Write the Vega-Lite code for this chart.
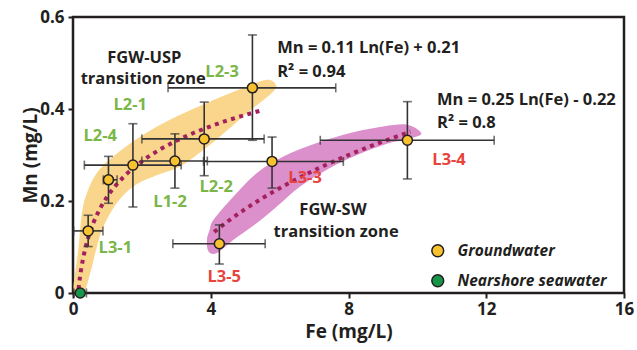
{
  "$schema": "https://vega.github.io/schema/vega-lite/v6.json",
  "width": 551,
  "height": 276,
  "autosize": {"type": "none"},
  "padding": {"left": 73, "top": 17, "right": 13, "bottom": 57},
  "background": "white",
  "config": {
    "view": {"stroke": "#231f20", "strokeWidth": 2.5},
    "axis": {
      "domain": false, "grid": false,
      "tickColor": "#231f20", "tickWidth": 2, "tickSize": 5,
      "labelFont": "Open Sans", "labelFontWeight": "bold", "labelFontSize": 17, "labelColor": "#231f20",
      "titleFont": "Open Sans", "titleFontWeight": "bold", "titleFontSize": 19, "titleColor": "#231f20"
    },
    "legend": {
      "orient": "none", "legendX": 357, "legendY": 226, "padding": 0,
      "symbolType": "circle", "symbolSize": 140, "symbolStrokeColor": "#231f20", "symbolStrokeWidth": 1.5,
      "labelFont": "Open Sans", "labelFontStyle": "italic", "labelFontWeight": "bold", "labelFontSize": 15.5,
      "labelColor": "#231f20", "labelOffset": 12, "rowPadding": 11
    }
  },
  "datasets": {
    "samples": [
      {"site": "L3-1", "type": "Groundwater", "Fe": 0.44, "Mn": 0.135, "FeLo": 0.02, "FeHi": 0.87, "MnLo": 0.101, "MnHi": 0.169},
      {"site": "L2-4", "type": "Groundwater", "Fe": 1.03, "Mn": 0.246, "FeLo": 0.88, "FeHi": 1.28, "MnLo": 0.195, "MnHi": 0.297},
      {"site": "L2-1", "type": "Groundwater", "Fe": 1.74, "Mn": 0.278, "FeLo": 0.33, "FeHi": 3.14, "MnLo": 0.187, "MnHi": 0.368},
      {"site": "L1-2", "type": "Groundwater", "Fe": 2.96, "Mn": 0.287, "FeLo": 2.0, "FeHi": 3.9, "MnLo": 0.228, "MnHi": 0.346},
      {"site": "L2-2", "type": "Groundwater", "Fe": 3.81, "Mn": 0.335, "FeLo": 2.0, "FeHi": 5.55, "MnLo": 0.255, "MnHi": 0.415},
      {"site": "L2-3", "type": "Groundwater", "Fe": 5.21, "Mn": 0.446, "FeLo": 2.76, "FeHi": 7.63, "MnLo": 0.332, "MnHi": 0.561},
      {"site": "L3-3", "type": "Groundwater", "Fe": 5.78, "Mn": 0.286, "FeLo": 3.79, "FeHi": 7.85, "MnLo": 0.228, "MnHi": 0.339},
      {"site": "L3-4", "type": "Groundwater", "Fe": 9.71, "Mn": 0.332, "FeLo": 7.18, "FeHi": 12.23, "MnLo": 0.248, "MnHi": 0.416},
      {"site": "L3-5", "type": "Groundwater", "Fe": 4.25, "Mn": 0.107, "FeLo": 2.9, "FeHi": 5.58, "MnLo": 0.063, "MnHi": 0.148},
      {"site": "SW", "type": "Nearshore seawater", "Fe": 0.21, "Mn": 0.0, "FeLo": 0.03, "FeHi": 0.39, "MnLo": null, "MnHi": null}
    ],
    "zoneUSP": [
      {"i": 0, "Fe": 0.023, "Mn": 0.005}, {"i": 1, "Fe": 0.096, "Mn": 0.0615}, {"i": 2, "Fe": 0.163, "Mn": 0.101},
      {"i": 3, "Fe": 0.261, "Mn": 0.1746}, {"i": 4, "Fe": 0.406, "Mn": 0.218}, {"i": 5, "Fe": 0.696, "Mn": 0.2615},
      {"i": 6, "Fe": 1.169, "Mn": 0.297}, {"i": 7, "Fe": 2.04, "Mn": 0.344}, {"i": 8, "Fe": 3.018, "Mn": 0.384},
      {"i": 9, "Fe": 3.984, "Mn": 0.4165}, {"i": 10, "Fe": 5.049, "Mn": 0.449}, {"i": 11, "Fe": 5.63, "Mn": 0.4637},
      {"i": 12, "Fe": 5.87, "Mn": 0.455}, {"i": 13, "Fe": 5.82, "Mn": 0.438}, {"i": 14, "Fe": 5.05, "Mn": 0.391},
      {"i": 15, "Fe": 4.27, "Mn": 0.3404}, {"i": 16, "Fe": 3.79, "Mn": 0.3115}, {"i": 17, "Fe": 3.11, "Mn": 0.275},
      {"i": 18, "Fe": 2.34, "Mn": 0.2535}, {"i": 19, "Fe": 1.75, "Mn": 0.2317}, {"i": 20, "Fe": 1.277, "Mn": 0.196},
      {"i": 21, "Fe": 0.888, "Mn": 0.145}, {"i": 22, "Fe": 0.696, "Mn": 0.101}, {"i": 23, "Fe": 0.502, "Mn": 0.044},
      {"i": 24, "Fe": 0.308, "Mn": 0.0007}
    ],
    "zoneSW": [
      {"i": 0, "Fe": 3.889, "Mn": 0.116}, {"i": 1, "Fe": 3.97, "Mn": 0.1376}, {"i": 2, "Fe": 4.08, "Mn": 0.1593},
      {"i": 3, "Fe": 4.66, "Mn": 0.21}, {"i": 4, "Fe": 5.34, "Mn": 0.261}, {"i": 5, "Fe": 6.111, "Mn": 0.297},
      {"i": 6, "Fe": 7.081, "Mn": 0.326}, {"i": 7, "Fe": 8.047, "Mn": 0.348}, {"i": 8, "Fe": 9.013, "Mn": 0.362},
      {"i": 9, "Fe": 9.692, "Mn": 0.366}, {"i": 10, "Fe": 10.078, "Mn": 0.351}, {"i": 11, "Fe": 9.983, "Mn": 0.34},
      {"i": 12, "Fe": 9.013, "Mn": 0.322}, {"i": 13, "Fe": 8.047, "Mn": 0.2935}, {"i": 14, "Fe": 7.371, "Mn": 0.268},
      {"i": 15, "Fe": 6.596, "Mn": 0.2317}, {"i": 16, "Fe": 5.92, "Mn": 0.188}, {"i": 17, "Fe": 5.34, "Mn": 0.152},
      {"i": 18, "Fe": 4.66, "Mn": 0.116}, {"i": 19, "Fe": 4.179, "Mn": 0.087}, {"i": 20, "Fe": 3.935, "Mn": 0.09}
    ],
    "fitUSP": [
      {"Fe": 0.16, "Mn": 0.0084}, {"Fe": 0.2, "Mn": 0.033}, {"Fe": 0.25, "Mn": 0.0575}, {"Fe": 0.3, "Mn": 0.0776},
      {"Fe": 0.4, "Mn": 0.1092}, {"Fe": 0.5, "Mn": 0.1338}, {"Fe": 0.6, "Mn": 0.1538}, {"Fe": 0.8, "Mn": 0.1855},
      {"Fe": 1.0, "Mn": 0.21}, {"Fe": 1.25, "Mn": 0.2345}, {"Fe": 1.5, "Mn": 0.2546}, {"Fe": 2.0, "Mn": 0.2862},
      {"Fe": 2.5, "Mn": 0.3108}, {"Fe": 3.0, "Mn": 0.3308}, {"Fe": 3.5, "Mn": 0.3478}, {"Fe": 4.0, "Mn": 0.3625},
      {"Fe": 4.5, "Mn": 0.3755}, {"Fe": 5.0, "Mn": 0.387}, {"Fe": 5.5, "Mn": 0.3975}
    ],
    "fitSW": [
      {"Fe": 4.1, "Mn": 0.1327}, {"Fe": 4.5, "Mn": 0.156}, {"Fe": 5.0, "Mn": 0.1824}, {"Fe": 5.5, "Mn": 0.2062},
      {"Fe": 6.0, "Mn": 0.2279}, {"Fe": 6.5, "Mn": 0.2479}, {"Fe": 7.0, "Mn": 0.2665}, {"Fe": 7.5, "Mn": 0.2837},
      {"Fe": 8.0, "Mn": 0.2999}, {"Fe": 8.5, "Mn": 0.315}, {"Fe": 9.0, "Mn": 0.3293}, {"Fe": 9.5, "Mn": 0.3428},
      {"Fe": 9.8, "Mn": 0.3506}
    ],
    "uspLabels": [
      {"text": "L2-3", "Fe": 4.33, "Mn": 0.481}, {"text": "L2-1", "Fe": 1.66, "Mn": 0.409},
      {"text": "L2-4", "Fe": 0.79, "Mn": 0.342}, {"text": "L1-2", "Fe": 2.82, "Mn": 0.198},
      {"text": "L2-2", "Fe": 4.16, "Mn": 0.231}, {"text": "L3-1", "Fe": 1.23, "Mn": 0.098}
    ],
    "swLabels": [
      {"text": "L3-3", "Fe": 6.74, "Mn": 0.251}, {"text": "L3-4", "Fe": 10.92, "Mn": 0.29},
      {"text": "L3-5", "Fe": 4.39, "Mn": 0.035}
    ],
    "zoneNames": [
      {"text": "FGW-USP", "Fe": 2.07, "Mn": 0.5115}, {"text": "transition zone", "Fe": 2.04, "Mn": 0.466},
      {"text": "FGW-SW", "Fe": 7.55, "Mn": 0.181}, {"text": "transition zone", "Fe": 7.64, "Mn": 0.133}
    ],
    "equations": [
      {"text": "Mn = 0.11 Ln(Fe) + 0.21", "Fe": 5.93, "Mn": 0.533}, {"text": "R² = 0.94", "Fe": 5.93, "Mn": 0.481},
      {"text": "Mn = 0.25 Ln(Fe) - 0.22", "Fe": 10.57, "Mn": 0.42}, {"text": "R² = 0.8", "Fe": 10.57, "Mn": 0.37}
    ]
  },
  "layer": [
    {
      "data": {"name": "zoneUSP"},
      "mark": {"type": "line", "fill": "#fad68c", "strokeWidth": 0, "interpolate": "cardinal-closed", "clip": true},
      "encoding": {
        "x": {"field": "Fe", "type": "quantitative", "title": "Fe (mg/L)", "scale": {"domain": [0, 16], "nice": false},
              "axis": {"values": [0, 4, 8, 12, 16], "labelFlush": false, "labelPadding": 3, "titlePadding": 5}},
        "y": {"field": "Mn", "type": "quantitative", "title": "Mn (mg/L)", "scale": {"domain": [0, 0.6], "nice": false, "zero": false},
              "axis": {"values": [0, 0.2, 0.4, 0.6], "format": "~g", "labelPadding": 4, "titlePadding": -1}},
        "order": {"field": "i", "type": "quantitative"}
      }
    },
    {
      "data": {"name": "zoneSW"},
      "mark": {"type": "line", "fill": "#db8fcb", "strokeWidth": 0, "interpolate": "cardinal-closed", "clip": true},
      "encoding": {
        "x": {"field": "Fe", "type": "quantitative", "title": "Fe (mg/L)"},
        "y": {"field": "Mn", "type": "quantitative", "title": "Mn (mg/L)"},
        "order": {"field": "i", "type": "quantitative"}
      }
    },
    {
      "data": {"name": "fitUSP"},
      "mark": {"type": "line", "color": "#a3225e", "strokeWidth": 4, "strokeDash": [4, 4.5], "interpolate": "monotone", "clip": true},
      "encoding": {
        "x": {"field": "Fe", "type": "quantitative", "title": "Fe (mg/L)"},
        "y": {"field": "Mn", "type": "quantitative", "title": "Mn (mg/L)"}
      }
    },
    {
      "data": {"name": "fitSW"},
      "mark": {"type": "line", "color": "#a3225e", "strokeWidth": 4, "strokeDash": [4, 4.5], "interpolate": "monotone", "clip": true},
      "encoding": {
        "x": {"field": "Fe", "type": "quantitative", "title": "Fe (mg/L)"},
        "y": {"field": "Mn", "type": "quantitative", "title": "Mn (mg/L)"}
      }
    },
    {
      "data": {"name": "samples"},
      "mark": {"type": "rule", "color": "#333333", "strokeWidth": 1.6},
      "encoding": {
        "x": {"field": "Fe", "type": "quantitative", "title": "Fe (mg/L)"},
        "y": {"field": "MnLo", "type": "quantitative", "title": "Mn (mg/L)"},
        "y2": {"field": "MnHi"}
      }
    },
    {
      "data": {"name": "samples"},
      "mark": {"type": "rule", "color": "#333333", "strokeWidth": 1.6},
      "encoding": {
        "y": {"field": "Mn", "type": "quantitative", "title": "Mn (mg/L)"},
        "x": {"field": "FeLo", "type": "quantitative", "title": "Fe (mg/L)"},
        "x2": {"field": "FeHi"}
      }
    },
    {
      "data": {"name": "samples"},
      "mark": {"type": "tick", "orient": "horizontal", "color": "#333333", "size": 9, "thickness": 1.6},
      "encoding": {
        "x": {"field": "Fe", "type": "quantitative", "title": "Fe (mg/L)"},
        "y": {"field": "MnLo", "type": "quantitative", "title": "Mn (mg/L)"}
      }
    },
    {
      "data": {"name": "samples"},
      "mark": {"type": "tick", "orient": "horizontal", "color": "#333333", "size": 9, "thickness": 1.6},
      "encoding": {
        "x": {"field": "Fe", "type": "quantitative", "title": "Fe (mg/L)"},
        "y": {"field": "MnHi", "type": "quantitative", "title": "Mn (mg/L)"}
      }
    },
    {
      "data": {"name": "samples"},
      "mark": {"type": "tick", "orient": "vertical", "color": "#333333", "size": 9, "thickness": 1.6},
      "encoding": {
        "x": {"field": "FeLo", "type": "quantitative", "title": "Fe (mg/L)"},
        "y": {"field": "Mn", "type": "quantitative", "title": "Mn (mg/L)"}
      }
    },
    {
      "data": {"name": "samples"},
      "mark": {"type": "tick", "orient": "vertical", "color": "#333333", "size": 9, "thickness": 1.6},
      "encoding": {
        "x": {"field": "FeHi", "type": "quantitative", "title": "Fe (mg/L)"},
        "y": {"field": "Mn", "type": "quantitative", "title": "Mn (mg/L)"}
      }
    },
    {
      "data": {"name": "samples"},
      "mark": {"type": "point", "shape": "circle", "filled": true, "size": 100, "stroke": "#231f20", "strokeWidth": 1.5, "opacity": 1},
      "encoding": {
        "x": {"field": "Fe", "type": "quantitative", "title": "Fe (mg/L)"},
        "y": {"field": "Mn", "type": "quantitative", "title": "Mn (mg/L)"},
        "color": {"field": "type", "type": "nominal",
                  "scale": {"domain": ["Groundwater", "Nearshore seawater"], "range": ["#f8c12f", "#17964a"]},
                  "legend": {"title": null}}
      }
    },
    {
      "data": {"name": "uspLabels"},
      "mark": {"type": "text", "font": "Open Sans", "fontWeight": "bold", "fontSize": 16.5, "color": "#7ab648", "align": "center", "baseline": "middle"},
      "encoding": {
        "x": {"field": "Fe", "type": "quantitative", "title": "Fe (mg/L)"},
        "y": {"field": "Mn", "type": "quantitative", "title": "Mn (mg/L)"},
        "text": {"field": "text"}
      }
    },
    {
      "data": {"name": "swLabels"},
      "mark": {"type": "text", "font": "Open Sans", "fontWeight": "bold", "fontSize": 16.5, "color": "#e8433d", "align": "center", "baseline": "middle"},
      "encoding": {
        "x": {"field": "Fe", "type": "quantitative", "title": "Fe (mg/L)"},
        "y": {"field": "Mn", "type": "quantitative", "title": "Mn (mg/L)"},
        "text": {"field": "text"}
      }
    },
    {
      "data": {"name": "zoneNames"},
      "mark": {"type": "text", "font": "Open Sans", "fontWeight": "bold", "fontSize": 16.5, "color": "#231f20", "align": "center", "baseline": "middle"},
      "encoding": {
        "x": {"field": "Fe", "type": "quantitative", "title": "Fe (mg/L)"},
        "y": {"field": "Mn", "type": "quantitative", "title": "Mn (mg/L)"},
        "text": {"field": "text"}
      }
    },
    {
      "data": {"name": "equations"},
      "mark": {"type": "text", "font": "Open Sans", "fontWeight": "bold", "fontSize": 16.5, "color": "#231f20", "align": "left", "baseline": "middle"},
      "encoding": {
        "x": {"field": "Fe", "type": "quantitative", "title": "Fe (mg/L)"},
        "y": {"field": "Mn", "type": "quantitative", "title": "Mn (mg/L)"},
        "text": {"field": "text"}
      }
    }
  ]
}
